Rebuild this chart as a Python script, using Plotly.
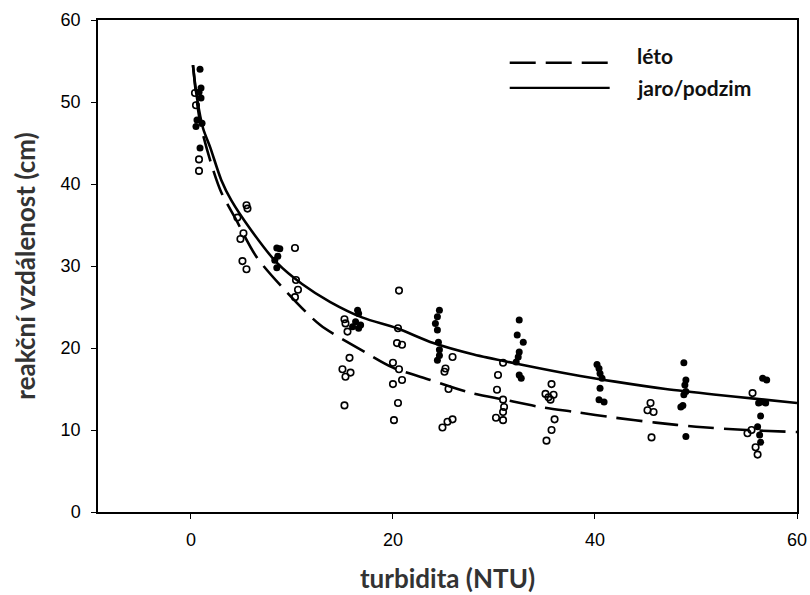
import plotly.graph_objects as go

# léto (summer) – open circles
leto_x = [0.4, 0.5, 0.8, 0.8,
          4.6, 5.5, 5.6, 5.2, 4.9, 5.1, 5.5,
          10.3, 10.4, 10.6, 10.3,
          15.2, 15.3, 15.5, 15.7, 15.0, 15.3, 15.8, 15.2,
          20.6, 20.5, 20.4, 20.9, 20.0, 20.6, 20.9, 20.0, 20.5, 20.1,
          25.9, 25.2, 25.1, 25.5, 25.9, 25.4, 24.9,
          30.9, 30.4, 30.3, 30.9, 31.0, 30.9, 30.2, 30.9,
          35.7, 35.1, 35.4, 35.9, 35.6, 36.0, 35.7, 35.2,
          45.5, 45.2, 45.8, 45.6,
          55.6, 55.5, 55.1, 55.9, 56.1]
leto_y = [51.1, 49.6, 43.0, 41.6,
          35.9, 37.4, 37.0, 34.0, 33.3, 30.6, 29.6,
          32.2, 28.3, 27.1, 26.2,
          23.5, 23.0, 22.0, 18.8, 17.4, 16.5, 17.0, 13.0,
          27.0, 22.4, 20.6, 20.4, 18.2, 17.4, 16.1, 15.6, 13.3, 11.2,
          18.9, 17.5, 17.1, 15.0, 11.3, 11.0, 10.3,
          18.2, 16.7, 14.9, 13.7, 12.8, 12.2, 11.5, 11.2,
          15.6, 14.4, 14.0, 14.3, 13.7, 11.3, 10.0, 8.7,
          13.3, 12.4, 12.2, 9.1,
          14.5, 10.0, 9.6, 7.9, 7.0]

# jaro/podzim (spring/autumn) – filled dots
jp_x = [0.9, 1.0, 0.8, 1.0, 0.6, 1.1, 0.5, 0.9,
        8.5, 8.8, 8.3, 8.5, 8.6,
        16.5, 16.6, 16.3, 16.8, 16.6, 16.0,
        24.6, 24.4, 24.2, 24.4, 24.5, 24.6, 24.6, 24.4,
        32.5, 32.3, 32.9, 32.5, 32.4, 32.2, 32.5, 32.7,
        40.2, 40.4, 40.5, 40.7, 40.5, 40.4, 40.9,
        48.8, 49.0, 48.9, 49.0, 48.8, 48.7, 48.5, 49.0,
        56.6, 57.0, 56.4, 56.9, 56.2, 56.4, 56.1, 56.3, 56.4]
jp_y = [54.0, 51.7, 51.2, 50.5, 47.8, 47.4, 47.0, 44.4,
        32.2, 32.1, 30.7, 29.8, 31.2,
        24.6, 24.2, 23.2, 22.8, 22.4, 22.6,
        24.6, 23.8, 23.0, 22.2, 20.7, 19.8, 19.1, 18.5,
        23.4, 21.6, 20.7, 19.5, 18.9, 18.3, 16.7, 16.3,
        18.0, 17.5, 16.9, 16.3, 15.1, 13.7, 13.4,
        18.2, 16.1, 15.5, 14.7, 14.3, 13.0, 12.8, 9.2,
        16.3, 16.1, 13.4, 13.3, 13.3, 11.7, 10.4, 9.4, 8.5]

# fitted curves
leto_fit_x = [0.2, 0.6, 1.0, 2.0, 3.0, 4.4, 6.5, 9.5, 12.8, 16.8, 20.0, 23.7,
              27.5, 31.0, 34.6, 38.0, 42.0, 46.0, 50.0, 55.0, 60.0]
leto_fit_y = [54.5, 50.0, 47.0, 42.5, 39.0, 35.8, 31.1, 26.8, 22.8, 19.8, 17.6, 16.1,
              14.6, 13.7, 12.8, 12.2, 11.5, 10.9, 10.4, 10.0, 9.75]
jp_fit_x = [0.2, 0.6, 1.2, 1.9, 3.0, 4.0, 6.0, 8.5, 11.0, 13.8, 17.0, 20.4, 24.0,
            28.0, 33.0, 37.6, 42.0, 47.0, 52.0, 56.0, 60.0]
jp_fit_y = [54.5, 50.5, 46.8, 44.5, 40.5, 38.0, 34.3, 30.4, 27.8, 25.6, 23.7, 22.4, 20.6,
            19.2, 17.9, 16.8, 15.9, 15.0, 14.3, 13.8, 13.3]

x_ticks = [0, 20, 40, 60]
y_ticks = [0, 10, 20, 30, 40, 50, 60]
legend_labels = ["léto", "jaro/podzim"]

fig = go.Figure()
fig.add_trace(go.Scatter(x=leto_x, y=leto_y, mode="markers", showlegend=False,
                         marker=dict(symbol="circle-open", size=6.5, color="black",
                                     line=dict(width=1.6, color="black"))))
fig.add_trace(go.Scatter(x=jp_x, y=jp_y, mode="markers", showlegend=False,
                         marker=dict(symbol="circle", size=7, color="black")))
fig.add_trace(go.Scatter(x=leto_fit_x, y=leto_fit_y, mode="lines", showlegend=False,
                         line=dict(color="black", width=2.6, dash="26px,10px", shape="spline",
                                   smoothing=0.8)))
fig.add_trace(go.Scatter(x=jp_fit_x, y=jp_fit_y, mode="lines", showlegend=False,
                         line=dict(color="black", width=2.6, shape="spline", smoothing=0.8)))

# legend drawn in paper coordinates
dash_styles = ["26px,10px", "solid"]
leg_y = [0.913, 0.862]
txt_y = [0.928, 0.862]
for lab, dsh, ly, ty in zip(legend_labels, dash_styles, leg_y, txt_y):
    fig.add_shape(type="line", xref="paper", yref="paper", x0=0.589, x1=0.732, y0=ly, y1=ly,
                  line=dict(color="black", width=2.4, dash=dsh))
    fig.add_annotation(xref="paper", yref="paper", x=0.768, y=ty, text=lab,
                       showarrow=False, xanchor="left", yanchor="middle",
                       font=dict(family="Lato", size=21, color="#111111", weight="bold"))

axis_common = dict(showline=True, linecolor="black", linewidth=1.5, mirror=True,
                   ticks="outside", ticklen=5, tickwidth=1.2, tickcolor="black",
                   showgrid=False, zeroline=False, automargin=False,
                   tickfont=dict(family="Liberation Sans", size=18, color="black"))

fig.update_layout(
    width=810, height=595,
    margin=dict(l=98, r=13, t=20, b=83),
    paper_bgcolor="white", plot_bgcolor="white",
    xaxis=dict(range=[-9.2, 60], tickvals=x_ticks, ticklabelstandoff=6,
               title=dict(text="turbidita (NTU)", standoff=20,
                          font=dict(family="Lato", size=26, color="#333333", weight="bold")),
               **axis_common),
    yaxis=dict(range=[0, 60], tickvals=y_ticks, ticklabelstandoff=7,
               title=dict(text="reakční vzdálenost (cm)", standoff=18,
                          font=dict(family="Lato", size=26, color="#333333", weight="bold")),
               **axis_common),
)

fig.write_html("out.html")
